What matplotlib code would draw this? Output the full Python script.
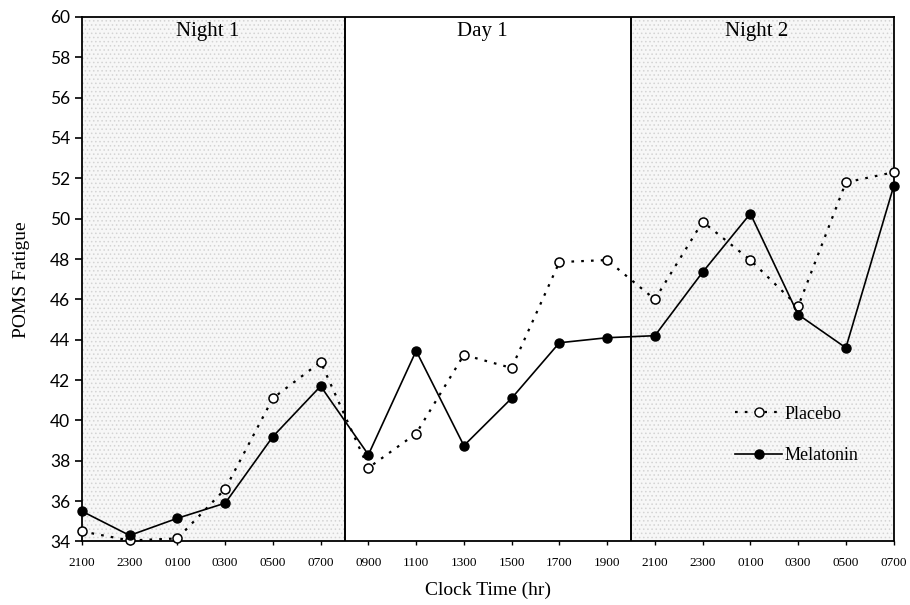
import matplotlib
matplotlib.use("Agg")
import matplotlib.pyplot as plt
from matplotlib.lines import Line2D

plt.rcParams['font.family'] = ['Liberation Serif', 'DejaVu Serif']
plt.rcParams['hatch.linewidth'] = 0.6

clock_times = ["2100", "2300", "0100", "0300", "0500", "0700", "0900", "1100", "1300",
               "1500", "1700", "1900", "2100", "2300", "0100", "0300", "0500", "0700"]
placebo = [34.5, 34.05, 34.15, 36.6, 41.1, 42.9, 37.65, 39.35, 43.25,
           42.6, 47.85, 47.95, 46.0, 49.85, 47.95, 45.65, 51.8, 52.3]
melatonin = [35.5, 34.3, 35.15, 35.9, 39.2, 41.7, 38.3, 43.45, 38.75,
             41.1, 43.85, 44.1, 44.2, 47.35, 50.25, 45.25, 43.6, 51.6]
periods = ["Night 1", "Day 1", "Night 2"]
period_bounds = [(0, 5.5), (5.5, 11.5), (11.5, 17)]
shaded = [True, False, True]

fig = plt.figure(figsize=(9.1, 6.05), dpi=100)
ax = fig.add_axes([0.090, 0.105, 0.892, 0.867])

x = list(range(len(clock_times)))

for (a, b), sh in zip(period_bounds, shaded):
    if sh:
        ax.axvspan(a, b, facecolor="#f7f7f7", hatch="....", edgecolor="#d4d4d4",
                   linewidth=0, zorder=0)
for (a, b) in period_bounds[1:]:
    ax.axvline(a, color="black", linewidth=1.4, zorder=1)

for name, (a, b) in zip(periods, period_bounds):
    ax.text((a + b) / 2 - 0.12, 59.75, name, ha="center", va="top", fontsize=15)

ax.plot(x, placebo, linestyle=(0, (1.2, 3.2)), color="black", linewidth=1.6,
        marker="o", markersize=6.5, markerfacecolor="white", markeredgecolor="black",
        markeredgewidth=1.1, zorder=3, clip_on=False)
ax.plot(x, melatonin, linestyle="-", color="black", linewidth=1.2,
        marker="o", markersize=6.5, markerfacecolor="black", markeredgecolor="black",
        zorder=4, clip_on=False)

ax.set_xlim(0, 17)
ax.set_ylim(34, 60)
ax.set_yticks(range(34, 61, 2))
ax.set_xticks(x)
ax.set_xticklabels(clock_times, fontsize=9.5)
for lbl in ax.get_yticklabels():
    lbl.set_family(["Lato", "DejaVu Sans"])
ax.tick_params(axis="y", labelsize=12.5, direction="out", length=5, width=1.2)
ax.tick_params(axis="x", direction="out", length=3, width=1, pad=8)
for s in ax.spines.values():
    s.set_linewidth(1.3)

ax.set_xlabel("Clock Time (hr)", fontsize=14, labelpad=9)
ax.set_ylabel("POMS Fatigue", fontsize=14, labelpad=14)

handles = [
    Line2D([], [], linestyle=(0, (1.2, 3.2)), color="black", linewidth=1.6, marker="o",
           markersize=6.5, markerfacecolor="white", markeredgecolor="black"),
    Line2D([], [], linestyle="-", color="black", linewidth=1.2, marker="o",
           markersize=6.5, markerfacecolor="black"),
]
ax.legend(handles, ["Placebo", "Melatonin"], loc="upper left",
          bbox_to_anchor=(0.785, 0.29), frameon=False, fontsize=13,
          handlelength=2.6, handletextpad=0.1, labelspacing=1.35)

fig.savefig("out.png", dpi=100)
